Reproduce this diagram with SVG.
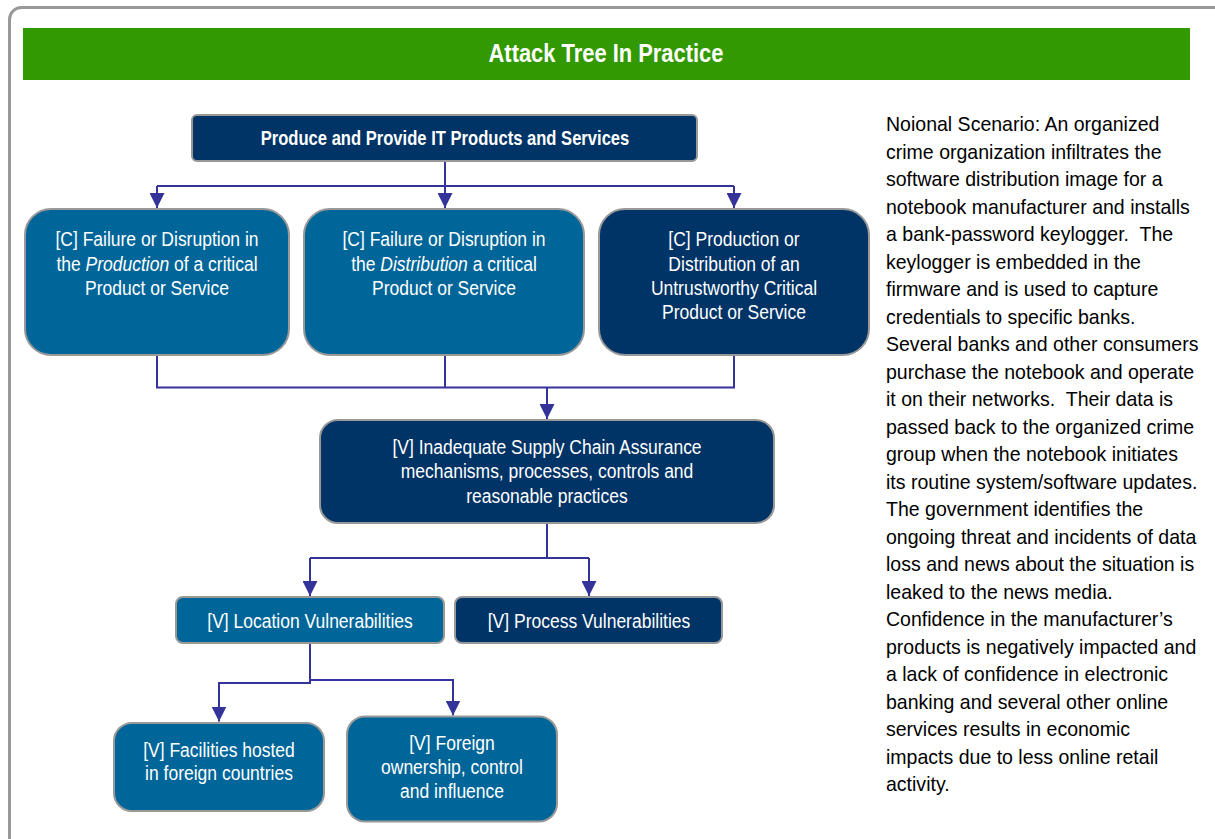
<svg xmlns="http://www.w3.org/2000/svg" width="1215" height="839" viewBox="0 0 1215 839">
<defs>
<style>
.t{font-family:"Liberation Sans",Arial,Helvetica,sans-serif;fill:#fff;font-size:20px;text-anchor:middle}
.tt{font-family:"Liberation Sans",Arial,Helvetica,sans-serif;fill:#fff;font-size:25px;font-weight:bold;text-anchor:middle}
.tb{font-family:"Liberation Sans",Arial,Helvetica,sans-serif;fill:#fff;font-size:20px;font-weight:bold;text-anchor:middle}
.lb{fill:#006699;stroke:#999;stroke-width:2}
.db{fill:#003366;stroke:#999;stroke-width:2}
.c{fill:none;stroke:#333399;stroke-width:2}
.p{font-family:"Liberation Sans",Arial,Helvetica,sans-serif;fill:#000;font-size:21px}
</style>
<marker id="a" viewBox="0 0 15 15" refX="15" refY="7.5" markerWidth="15" markerHeight="15" orient="auto" markerUnits="userSpaceOnUse">
<path d="M0,0 L15,7.5 L0,15 z" fill="#333399"/>
</marker>
</defs>
<rect width="1215" height="839" fill="#fff"/>
<rect x="9.5" y="7.5" width="1240" height="860" rx="12" fill="#fff" stroke="#999" stroke-width="3"/>
<rect x="23" y="28" width="1167" height="52" fill="#339900"/>
<g transform="translate(606 0) scale(0.876 1)"><text x="0" y="62" class="tt">Attack Tree In Practice</text></g>

<g id="connectors">
<path class="c" d="M445,161 V186 M157,186 H734"/>
<path class="c" d="M157,186 V208" marker-end="url(#a)"/>
<path class="c" d="M445,186 V208" marker-end="url(#a)"/>
<path class="c" d="M734,186 V208" marker-end="url(#a)"/>
<path class="c" d="M157,355 V387.5 H734 V355 M445,355 V387.5"/>
<path class="c" d="M547,387.5 V419" marker-end="url(#a)"/>
<path class="c" d="M547,523 V558 M310,558 H589"/>
<path class="c" d="M310,558 V596" marker-end="url(#a)"/>
<path class="c" d="M589,558 V596" marker-end="url(#a)"/>
<path class="c" d="M310,644 V683 H219 V721.5" marker-end="url(#a)"/>
<path class="c" d="M310,680 H453 V715.5" marker-end="url(#a)"/>
</g>

<g id="n-top">
<rect x="192" y="115" width="505" height="46" rx="5" class="db"/>
<g transform="translate(445 0) scale(0.83 1)"><text x="0" y="145" class="tb">Produce and Provide IT Products and Services</text></g>
</g>
<g id="n-c1">
<rect x="25" y="209" width="264" height="146" rx="26" class="lb"/>
<g transform="translate(157 0) scale(0.875 1)"><text class="t"><tspan x="0" y="246.5">[C] Failure or Disruption in</tspan><tspan x="0" y="270.8">the <tspan font-style="italic">Production</tspan> of a critical</tspan><tspan x="0" y="295">Product or Service</tspan></text></g>
</g>
<g id="n-c2">
<rect x="304" y="209" width="280" height="146" rx="26" class="lb"/>
<g transform="translate(444 0) scale(0.875 1)"><text class="t"><tspan x="0" y="246.5">[C] Failure or Disruption in</tspan><tspan x="0" y="270.8">the <tspan font-style="italic">Distribution</tspan> a critical</tspan><tspan x="0" y="295">Product or Service</tspan></text></g>
</g>
<g id="n-c3">
<rect x="599" y="209" width="270" height="146" rx="26" class="db"/>
<g transform="translate(734 0) scale(0.875 1)"><text class="t"><tspan x="0" y="246.5">[C] Production or</tspan><tspan x="0" y="270.8">Distribution of an</tspan><tspan x="0" y="295">Untrustworthy Critical</tspan><tspan x="0" y="319">Product or Service</tspan></text></g>
</g>
<g id="n-v1">
<rect x="320" y="420" width="454" height="103" rx="18" class="db"/>
<g transform="translate(547 0) scale(0.875 1)"><text class="t"><tspan x="0" y="454.3">[V] Inadequate Supply Chain Assurance</tspan><tspan x="0" y="478.5">mechanisms, processes, controls and</tspan><tspan x="0" y="502.7">reasonable practices</tspan></text></g>
</g>
<g id="n-loc">
<rect x="176" y="597" width="268" height="46" rx="7" class="lb"/>
<g transform="translate(310 0) scale(0.875 1)"><text x="0" y="628.3" class="t">[V] Location Vulnerabilities</text></g>
</g>
<g id="n-proc">
<rect x="455" y="597" width="267" height="46" rx="7" class="db"/>
<g transform="translate(589 0) scale(0.875 1)"><text x="0" y="628.3" class="t">[V] Process Vulnerabilities</text></g>
</g>
<g id="n-fac">
<rect x="114" y="723" width="210" height="88" rx="18" class="lb"/>
<g transform="translate(219 0) scale(0.875 1)"><text class="t"><tspan x="0" y="756.7">[V] Facilities hosted</tspan><tspan x="0" y="780.5">in foreign countries</tspan></text></g>
</g>
<g id="n-for">
<rect x="347" y="716.5" width="210" height="105" rx="18" class="lb"/>
<g transform="translate(452 0) scale(0.875 1)"><text class="t"><tspan x="0" y="750">[V] Foreign</tspan><tspan x="0" y="774.5">ownership, control</tspan><tspan x="0" y="798.5">and influence</tspan></text></g>
</g>

<g id="scenario" transform="translate(886 0) scale(0.93 1)">
<text class="p">
<tspan x="0" y="131.5">Noional Scenario: An organized</tspan>
<tspan x="0" y="159">crime organization infiltrates the</tspan>
<tspan x="0" y="186.5">software distribution image for a</tspan>
<tspan x="0" y="214">notebook manufacturer and installs</tspan>
<tspan x="0" y="241.5" xml:space="preserve">a bank-password keylogger.  The</tspan>
<tspan x="0" y="269">keylogger is embedded in the</tspan>
<tspan x="0" y="296.5">firmware and is used to capture</tspan>
<tspan x="0" y="324">credentials to specific banks.</tspan>
<tspan x="0" y="351.5">Several banks and other consumers</tspan>
<tspan x="0" y="379">purchase the notebook and operate</tspan>
<tspan x="0" y="406.5" xml:space="preserve">it on their networks.  Their data is</tspan>
<tspan x="0" y="434">passed back to the organized crime</tspan>
<tspan x="0" y="461.5">group when the notebook initiates</tspan>
<tspan x="0" y="489">its routine system/software updates.</tspan>
<tspan x="0" y="516.5">The government identifies the</tspan>
<tspan x="0" y="544">ongoing threat and incidents of data</tspan>
<tspan x="0" y="571.5">loss and news about the situation is</tspan>
<tspan x="0" y="599">leaked to the news media.</tspan>
<tspan x="0" y="626.5">Confidence in the manufacturer’s</tspan>
<tspan x="0" y="654">products is negatively impacted and</tspan>
<tspan x="0" y="681.5">a lack of confidence in electronic</tspan>
<tspan x="0" y="709">banking and several other online</tspan>
<tspan x="0" y="736.5">services results in economic</tspan>
<tspan x="0" y="764">impacts due to less online retail</tspan>
<tspan x="0" y="791.5">activity.</tspan>
</text>
</g>
</svg>
